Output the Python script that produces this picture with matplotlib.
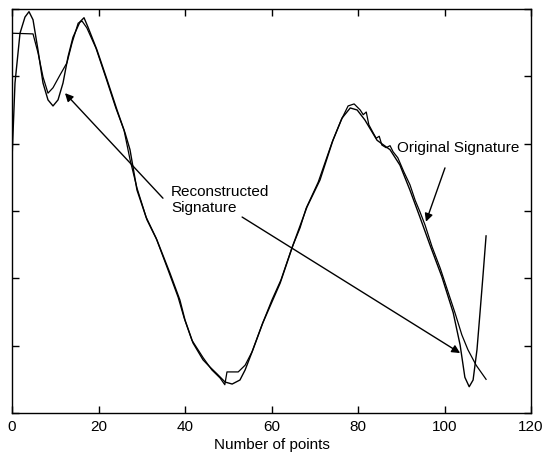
import matplotlib
matplotlib.use("Agg")
import matplotlib.pyplot as plt

plt.rcParams['font.family'] = ['Liberation Sans', 'DejaVu Sans']

# smooth curve (reconstructed signature)
recon_x = [0, 0.69, 1.85, 3.0, 3.93, 4.86, 6.01, 7.17, 8.32, 9.48, 10.64, 11.79, 12.95, 14.10,
           15.72, 16.65, 17.57, 19.65, 21.97, 24.28, 26.13, 27.28, 28.9, 31.2, 33.5, 36.5, 38.8,
           40.0, 41.85, 44.16, 45.8, 47.4, 49.25, 50.9, 52.7, 53.9, 55.7, 58.0, 60.3, 62.0, 65.0,
           68.2, 71.2, 74.2, 76.3, 78.2, 79.8, 81.6, 84.4, 87.4, 89.7, 92.0, 94.3, 96.6, 99.4,
           102.0, 103.6, 104.7, 105.7, 106.6, 107.5, 108.2, 108.9, 109.6]
recon_y = [3.76, 4.90, 5.64, 5.88, 5.96, 5.84, 5.39, 4.90, 4.65, 4.56, 4.65, 4.90, 5.29, 5.58,
           5.81, 5.87, 5.73, 5.39, 4.95, 4.50, 4.16, 3.91, 3.31, 2.87, 2.57, 2.08, 1.68,
           1.38, 1.04, 0.79, 0.68, 0.58, 0.46, 0.43, 0.49, 0.64, 0.94, 1.34, 1.68, 1.93, 2.50,
           3.06, 3.46, 4.05, 4.38, 4.53, 4.50, 4.35, 4.05, 3.91, 3.68, 3.31, 2.91, 2.50, 2.02,
           1.49, 1.01, 0.53, 0.39, 0.49, 0.94, 1.49, 2.05, 2.63]

# jagged curve (original signature)
orig_x = [0, 4.86, 6.01, 7.17, 8.32, 9.48, 11.1, 12.7, 13.9, 15.3, 16.2, 17.3, 19.4, 21.7, 24.0,
          25.9, 27.3, 28.9, 31.0, 33.3, 36.1, 38.4, 39.8, 41.6, 44.2, 46.2, 48.1, 49.2, 49.7,
          52.3, 53.9, 55.5, 57.8, 60.1, 62.2, 64.7, 66.6, 68.0, 70.8, 74.0, 76.1, 77.7, 79.1,
          80.5, 81.2, 81.9, 82.5, 83.5, 84.2, 84.9, 85.5, 86.5, 87.4, 88.1, 89.2, 90.6, 92.0,
          93.2, 94.3, 95.5, 97.1, 99.0, 100.8, 102.4, 104.0, 105.4, 107.3, 109.6]
orig_y = [5.64, 5.63, 5.35, 4.99, 4.75, 4.83, 5.02, 5.20, 5.50, 5.79, 5.82, 5.72, 5.42, 4.98, 4.53,
          4.20, 3.76, 3.34, 2.91, 2.60, 2.12, 1.72, 1.41, 1.08, 0.82, 0.64, 0.52, 0.42, 0.61,
          0.61, 0.71, 0.91, 1.31, 1.68, 1.98, 2.45, 2.75, 3.04, 3.43, 4.02, 4.35, 4.56, 4.59,
          4.50, 4.43, 4.47, 4.28, 4.16, 4.08, 4.11, 3.98, 3.94, 3.97, 3.88, 3.79, 3.58, 3.39,
          3.16, 2.99, 2.79, 2.47, 2.15, 1.80, 1.49, 1.16, 0.94, 0.71, 0.50]

xticks = [0, 20, 40, 60, 80, 100, 120]
yticks = [0, 1, 2, 3, 4, 5, 6]

fig = plt.figure(figsize=(5.43, 4.63), dpi=100)
ax = fig.add_axes([0.0221, 0.108, 0.978 - 0.0221, 0.9806 - 0.108])

ax.plot(recon_x, recon_y, color='black', lw=1.0)
ax.plot(orig_x, orig_y, color='black', lw=0.9)

arrow = dict(arrowstyle='-|>', color='black', lw=1.0, mutation_scale=12, shrinkA=0, shrinkB=0)
ax.text(89.0, 3.94, 'Original Signature', fontsize=11, ha='left', va='center')
ax.annotate('', xy=(95.7, 2.84), xytext=(100.1, 3.64), arrowprops=arrow)

ax.text(36.8, 3.16, 'Reconstructed\nSignature', fontsize=11, ha='left', va='center',
        linespacing=1.2)
ax.annotate('', xy=(12.25, 4.75), xytext=(34.9, 3.19), arrowprops=arrow)
ax.annotate('', xy=(103.6, 0.89), xytext=(53.2, 2.91), arrowprops=arrow)

ax.set_xlim(0, 120)
ax.set_ylim(0, 6)
ax.set_xticks(xticks)
ax.set_yticks(yticks)
ax.set_yticklabels([])
ax.tick_params(direction='in', top=True, right=True, length=5, width=1, labelsize=11, pad=5)
ax.set_xlabel('Number of points', fontsize=11, labelpad=3)
for s in ax.spines.values():
    s.set_linewidth(1.0)

fig.savefig('out.png', dpi=100)
